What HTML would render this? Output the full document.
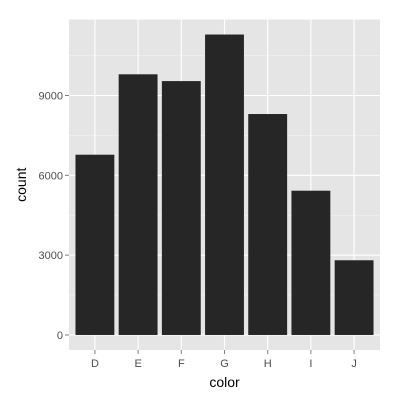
<!DOCTYPE html>
<html><head><meta charset="utf-8"><style>body{margin:0;background:#fff}svg{display:block}text{font-family:"Liberation Sans",sans-serif}</style></head>
<body>
<svg id="chart" width="400" height="400"></svg>
<script>
const categories=["D","E","F","G","H","I","J"];
const counts=[6775,9797,9542,11292,8304,5422,2808];
const yTicks=[0,3000,6000,9000];
const NS="http://www.w3.org/2000/svg";
const svg=document.getElementById('chart');
const L=69,R=380,T=19.5,B=350;
const ymax=Math.max(...counts)*1.05, ymin=-Math.max(...counts)*0.05;
const y=v=>B-(v-ymin)/(ymax-ymin)*(B-T);
const step=(R-L)/(categories.length+0.2);
const x=i=>L+(i+0.6)*step;
function mk(t,a,p){const e=document.createElementNS(NS,t);for(const k in a)e.setAttribute(k,a[k]);(p||svg).appendChild(e);return e;}
const panel=mk('rect',{x:L,y:T,width:R-L,height:B-T,fill:'#e5e5e5'});


for(let i=0;i<yTicks.length-1;i++){const m=(yTicks[i]+yTicks[i+1])/2;const g=mk('line',{x1:L,x2:R,y1:y(m),y2:y(m),stroke:'#f2f2f2','stroke-width':0.6});

}
{const m=yTicks[yTicks.length-1]+1500;const g=mk('line',{x1:L,x2:R,y1:y(m),y2:y(m),stroke:'#f2f2f2','stroke-width':0.6});

}
yTicks.forEach(v=>{const g=mk('line',{x1:L,x2:R,y1:y(v),y2:y(v),stroke:'#fff','stroke-width':1.1});


const t=mk('line',{x1:L-4,x2:L,y1:y(v),y2:y(v),stroke:'#7f7f7f','stroke-width':1});


const l=mk('text',{x:L-6,y:y(v)+4,'text-anchor':'end','font-size':11,fill:'#4d4d4d'});l.textContent=v;

});
categories.forEach((c,i)=>{const g=mk('line',{x1:x(i),x2:x(i),y1:T,y2:B,stroke:'#fff','stroke-width':1.1});

});
categories.forEach((c,i)=>{const w=step*0.9;const b=mk('rect',{x:x(i)-w/2,y:y(counts[i]),width:w,height:y(0)-y(counts[i]),fill:'#262626'});


const t=mk('line',{x1:x(i),x2:x(i),y1:B,y2:B+4,stroke:'#7f7f7f','stroke-width':1});


const l=mk('text',{x:x(i),y:B+17,'text-anchor':'middle','font-size':11,fill:'#4d4d4d'});l.textContent=c;

});
const xt=mk('text',{x:(L+R)/2,y:387,'text-anchor':'middle','font-size':14,fill:'#000'});xt.textContent='color';


const yt=mk('text',{x:0,y:0,transform:`translate(26,${(T+B)/2}) rotate(-90)`,'text-anchor':'middle','font-size':14,fill:'#000'});yt.textContent='count';


</script>
</body></html>
